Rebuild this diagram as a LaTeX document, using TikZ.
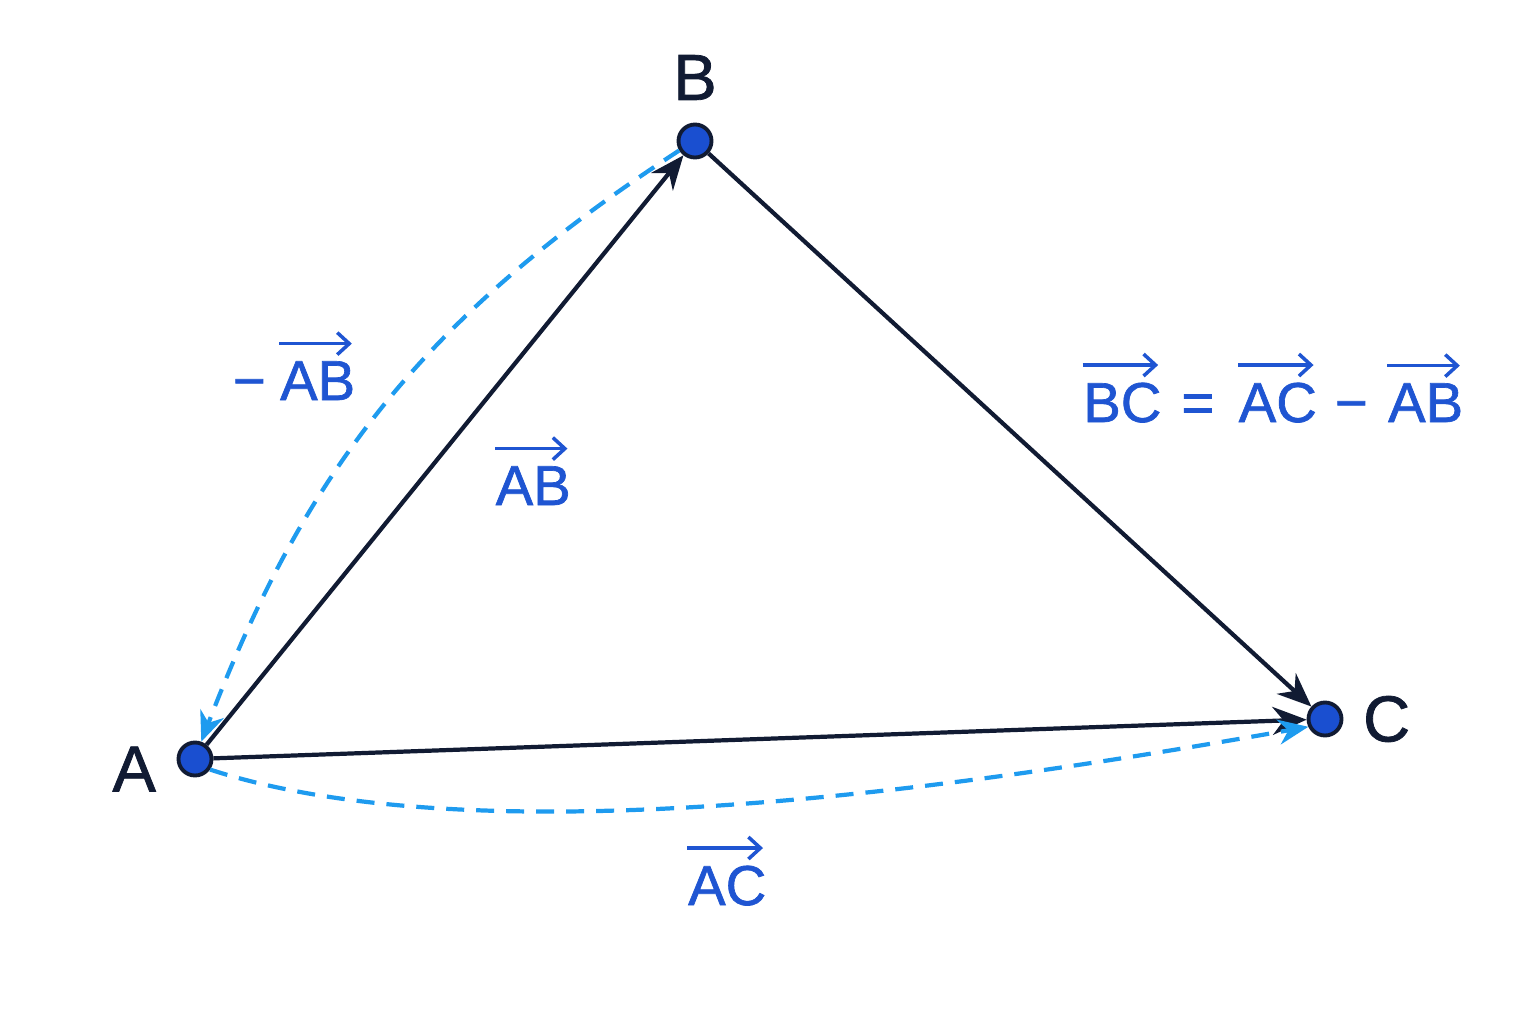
\documentclass[tikz,border=0pt]{standalone}
\usepackage{fontspec}
\setmainfont{Liberation Sans}
\newfontfamily\labelfont[FakeBold=1.2]{Liberation Sans}
\usetikzlibrary{arrows.meta,positioning}
\definecolor{ink}{HTML}{111B33}
\definecolor{ptblue}{HTML}{1A4FD0}
\definecolor{lblue}{HTML}{1F55D2}
\definecolor{dashblue}{HTML}{1E9BEF}
\newcommand{\vsf}[1]{\tikz[baseline=(t.base)]{\node[inner sep=0pt] (t) {#1};
  \draw[draw=lblue, line width=1pt, -{Straight Barb[length=0.12cm,width=0.22cm]}]
    ([yshift=0.17cm]t.north west) -- ([yshift=0.17cm,xshift=-0.04cm]t.north east);}}
\newcommand{\mns}{\char"2212}

\begin{document}
\begin{tikzpicture}[
  point/.style={circle, draw=ink, fill=ptblue, line width=1.1pt, minimum size=0.33cm, inner sep=0pt},
  point label/.style={text=ink, inner sep=0pt, font=\labelfont\fontsize{18.5}{22}\selectfont},
  vec label/.style={text=lblue, anchor=base, font=\labelfont\fontsize{16}{19}\selectfont},
  side/.style={draw=ink, line width=1.2pt, -{Stealth[length=0.34cm,width=0.28cm]}},
  back/.style={draw=dashblue, line width=1.2pt, dash pattern=on 0.18cm off 0.12cm, -{Stealth[length=0.3cm,width=0.25cm]}}]
\useasboundingbox (0,0) rectangle (15.36,10.24);
\node[point] (a) at (1.95,2.65) {};
\node[point] (b) at (6.95,8.83) {};
\node[point] (c) at (13.25,3.05) {};
\node[point label, above=0.22cm of b]             {B};
\node[point label, left=0.2cm of a, yshift=-0.1cm] {A};
\node[point label, right=0.19cm of c]             {C};
% sides of the triangle
\path
(a) edge [side] (b)
    edge [side] (c)
(b) edge [side] (c);
% dashed helpers
\draw[back] (b.211) to[bend right=18] (a.70);
\draw[back] (a.-35) to[out=-18, in=190, looseness=0.7] (c.205);
% labels
\node[vec label] (lab)  at (2.94,6.24)  {\mns\hspace{0.12cm}\vsf{AB}};
\node[vec label] (ab)   at (5.32,5.19)  {\vsf{AB}};
\node[vec label] (ac)   at (7.26,1.19)  {\vsf{AC}};
\node[vec label] (bc)   at (12.72,6.02) {\vsf{BC}\hspace{0.2cm}=\hspace{0.22cm}\vsf{AC}\hspace{0.18cm}\mns\hspace{0.18cm}\vsf{AB}};
\end{tikzpicture}
\end{document}
